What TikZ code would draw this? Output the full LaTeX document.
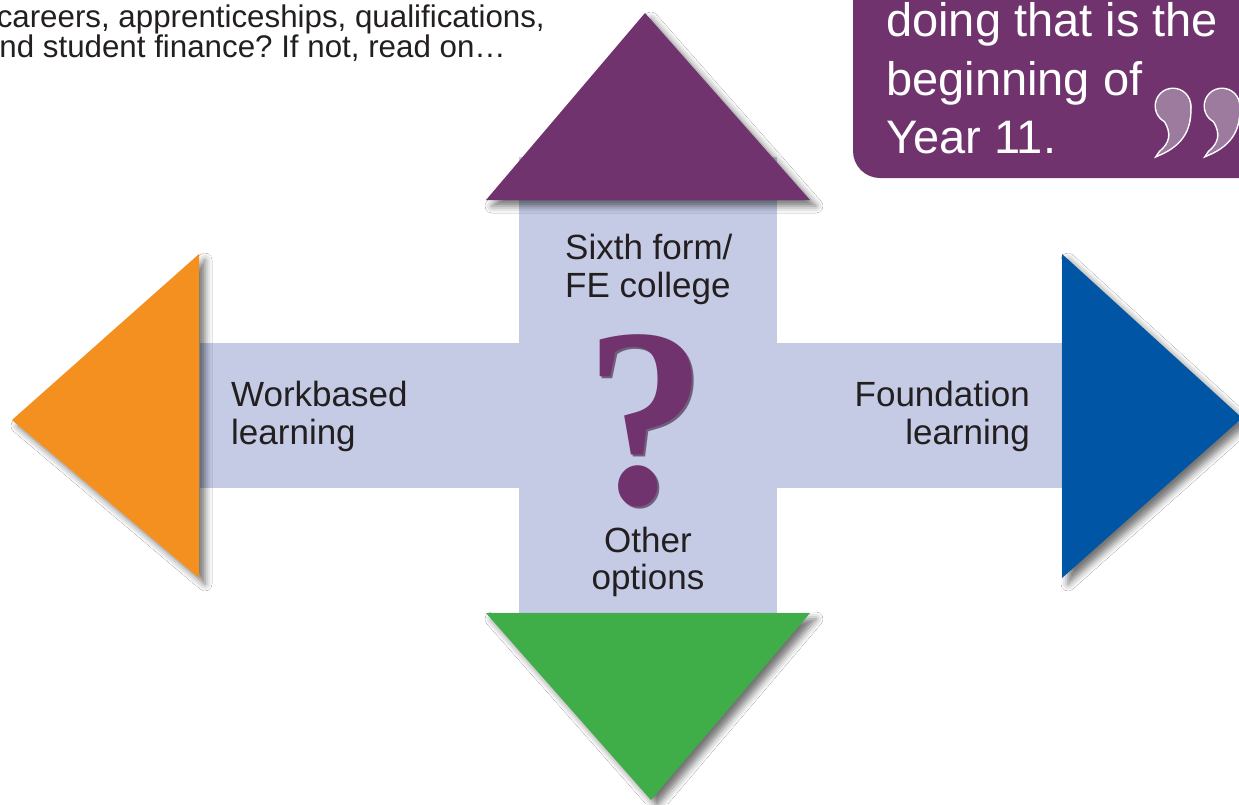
\documentclass[tikz,border=0pt]{standalone}
\usepackage{fontspec}
\setmainfont{Liberation Sans}
\newfontfamily\qmarkfont{Liberation Serif}
\usetikzlibrary{shadows.blur}
\frenchspacing
\definecolor{cpurple}{HTML}{70336E}
\definecolor{cbar}{HTML}{C5CAE5}
\definecolor{corange}{HTML}{F39020}
\definecolor{cblue}{HTML}{0055A4}
\definecolor{cgreen}{HTML}{3FAE49}
\definecolor{cquote}{HTML}{9C7B9E}
\definecolor{ctext}{HTML}{231F20}
\tikzset{
  arrowhead/.style={blur shadow={shadow xshift=6pt, shadow yshift=-6pt, shadow blur radius=7pt, shadow opacity=55}},
  barfill/.style={fill=cbar, draw=none},
  lbl/.style={font=\fontsize{35}{39}\selectfont, text=ctext, inner sep=0pt},
  introtxt/.style={font=\fontsize{31.3}{30}\selectfont, text=ctext, inner sep=0pt, anchor=base east},
  quotetxt/.style={font=\fontsize{47}{58}\selectfont, text=white, inner sep=0pt, anchor=base west},
  ninemark/.pic={
    \fill[white] (0,0) circle (18.5);
    \draw[white, line width=3pt, fill=white] (17,0) .. controls (18,20) and (12,38) .. (-15,49) -- (-13,46) .. controls (-3,38) and (0,28) .. (-8,15) -- cycle;
    \fill[cquote] (0,0) circle (17);
    \fill[cquote] (17,0) .. controls (18,20) and (12,38) .. (-15,49) -- (-13,46) .. controls (-3,38) and (0,28) .. (-8,15) -- cycle;
  }
}
\begin{document}
\begin{tikzpicture}[x=1pt,y=-1pt]
\useasboundingbox (0,0) rectangle (1239,804);
\fill[white] (0,0) rectangle (1239,804);

% intro text (clipped at the left edge)
\node[introtxt] (intro1) at (545,27) {careers, apprenticeships, qualifications,};
\node[introtxt] (intro2) at (506,57) {and student finance? If not, read on…};

% quote box
\fill[cpurple, rounded corners=27pt] (853,-60) rectangle (1300,178);
\node[quotetxt] (q1) at (886,36) {doing that is the};
\node[quotetxt] (q2) at (886,95) {beginning of};
\node[quotetxt] (q3) at (886,153) {Year 11.};
\pic at (1173,106) {ninemark};
\pic at (1222,106) {ninemark};

% cross bars
\fill[barfill] (519,157) rectangle (777,613);
\fill[barfill] (200,343) rectangle (1062,488);

% arrow heads
\coordinate (topapex) at (645,13);
\coordinate (botapex) at (651,800);
\coordinate (leftapex) at (12,420);
\coordinate (rightapex) at (1242,418);
\fill[cpurple, arrowhead] (486,200) -- (topapex) -- (810,200) -- cycle;
\fill[cgreen, arrowhead] (486,613) -- (810,613) -- (botapex) -- cycle;
\fill[corange, arrowhead] (199,254) -- (199,578) -- (leftapex) -- cycle;
\fill[cblue, arrowhead] (1062,254) -- (rightapex) -- (1062,578) -- cycle;

% labels
\node[lbl, anchor=base west] (sixth) at (565,259) {Sixth form/};
\node[lbl, anchor=base west] (fe) at (565,297) {FE college};
\node[lbl, anchor=base] (other) at (648,552) {Other};
\node[lbl, anchor=base] (opts) at (648,589) {options};
\node[lbl, anchor=base west] (work) at (231,406) {Workbased};
\node[lbl, anchor=base west] (learnl) at (231,444) {learning};
\node[lbl, anchor=base east] (found) at (1030,406) {Foundation};
\node[lbl, anchor=base east] (learnr) at (1030,444) {learning};

% question mark
\node[inner sep=0pt, anchor=base, text=black!50!cpurple, opacity=0.6, font=\qmarkfont\bfseries\fontsize{255}{255}\selectfont, xscale=0.95] (qshadow) at (648,505) {?};
\node[inner sep=0pt, anchor=base, text=cpurple, font=\qmarkfont\bfseries\fontsize{255}{255}\selectfont, xscale=0.95] (qmark) at (646,503) {?};
\end{tikzpicture}
\end{document}
